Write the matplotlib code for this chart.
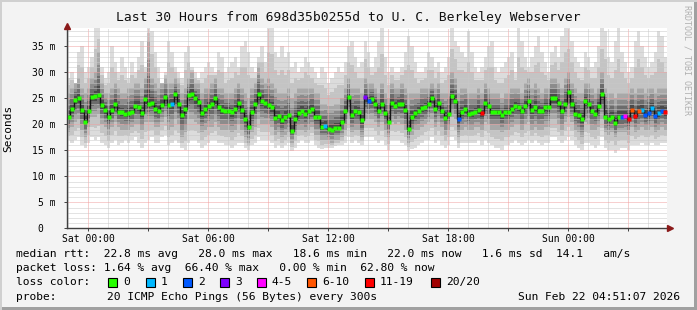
import matplotlib
matplotlib.use("Agg")
import matplotlib.pyplot as plt
from matplotlib.patches import Rectangle
import numpy as np

# median rtt per 10-minute step (ms), Fri 22:56 .. Sun 04:56
median_ms = [
    21.5, 23.0, 24.7, 25.0, 22.8, 20.5, 22.6, 25.3, 25.4, 25.6, 23.8, 22.8, 21.5, 22.8, 24.0,
    22.4, 22.3, 22.0, 22.1, 22.4, 23.5, 23.4, 22.2, 24.8, 24.0, 24.2, 23.0, 22.5, 23.8, 25.3,
    23.8, 24.0, 25.8, 24.0, 21.8, 22.9, 25.6, 25.8, 25.0, 24.3, 22.2, 23.0, 23.5, 23.9, 25.0,
    23.4, 22.8, 22.6, 22.5, 22.3, 22.9, 24.2, 22.7, 21.0, 19.5, 22.4, 24.0, 25.8, 24.6, 24.1,
    23.8, 23.3, 21.3, 21.6, 20.8, 21.5, 21.8, 18.8, 21.0, 22.1, 22.5, 22.0, 22.5, 23.0, 21.5,
    21.5, 19.5, 19.6, 19.1, 19.0, 19.3, 19.3, 20.5, 22.5, 25.2, 21.8, 22.5, 22.4, 20.8, 25.2,
    24.5, 24.8, 24.0, 22.5, 24.0, 22.2, 20.5, 24.2, 23.6, 24.0, 24.0, 22.8, 19.2, 21.5, 22.1,
    22.5, 23.1, 23.4, 23.9, 25.0, 22.9, 24.2, 22.6, 21.3, 22.0, 25.5, 24.6, 21.0, 22.3, 23.0,
    22.0, 22.2, 22.4, 22.8, 22.2, 24.2, 23.5, 22.4, 22.4, 22.3, 21.8, 22.4, 22.3, 23.0, 23.5,
    23.4, 22.6, 23.5, 24.5, 22.8, 23.4, 22.5, 22.6, 23.4, 23.3, 25.0, 25.0, 24.2, 22.5, 24.0,
    26.2, 24.0, 22.0, 21.8, 21.0, 24.5, 24.0, 22.5, 22.0, 23.5, 25.8, 21.5, 21.0, 21.4, 20.2,
    21.5, 21.5, 21.6, 21.0, 22.8, 21.6, 22.5, 22.8, 21.8, 22.1, 23.2, 21.6, 22.2, 22.6, 22.4,
]

# lost pings out of 20 per step
loss = [0] * 180
for i, v in {31: 1, 77: 1, 89: 3, 90: 2, 117: 2, 124: 12, 166: 2, 167: 4, 168: 12,
             169: 8, 170: 12, 171: 7, 172: 1, 173: 2, 174: 2, 175: 1, 176: 2, 177: 1,
             178: 2, 179: 12}.items():
    loss[i] = v

# smoke: slowest / fastest ping and the edges of the darker inner band
smoke_max = [
    29, 30, 28, 34, 35, 30, 31, 33, 39, 39, 31, 29, 30, 35, 32, 30, 33, 31, 29, 32, 30, 33, 36, 31, 39, 38, 34, 31, 28, 30,
    36, 34, 31, 30, 29, 34, 35, 31, 30, 29, 30, 31, 32, 31, 30, 34, 33, 30, 31, 32, 33, 31, 35, 36, 34, 31, 30, 33, 35, 32,
    39, 39, 34, 33, 35, 33, 34, 31, 32, 30, 31, 33, 32, 31, 30, 29, 31, 30, 28, 29, 30, 31, 30, 32, 35, 36, 33, 31, 32, 36,
    34, 31, 33, 36, 39, 33, 30, 31, 30, 30, 31, 34, 37, 35, 32, 30, 30, 31, 34, 33, 31, 32, 30, 31, 33, 39, 36, 35, 34, 33,
    38, 34, 31, 30, 31, 33, 35, 36, 31, 30, 31, 32, 33, 34, 30, 39, 36, 33, 31, 33, 35, 37, 34, 32, 30, 34, 35, 33, 37, 39,
    39, 36, 33, 32, 31, 34, 33, 31, 32, 35, 39, 38, 33, 32, 36, 39, 34, 32, 30, 31, 36, 38, 35, 33, 31, 32, 34, 38, 37, 33,
]
smoke_up = [
    26, 27, 28, 29, 27, 26, 27, 29, 30, 34, 28, 26, 26, 27, 28, 27, 26, 26, 27, 27, 28, 28, 27, 29, 36, 29, 28, 27, 28, 29,
    28, 28, 29, 28, 26, 27, 29, 30, 28, 28, 26, 27, 27, 28, 29, 27, 27, 26, 26, 26, 27, 28, 27, 26, 25, 27, 28, 31, 29, 28,
    29, 28, 27, 26, 26, 26, 27, 25, 26, 27, 27, 27, 27, 27, 26, 26, 24, 24, 23.5, 23.5, 24, 24, 25, 27, 29, 27, 27, 27, 26, 29,
    28, 28, 27, 26, 28, 26, 25, 28, 27, 27, 28, 27, 26, 26, 26, 26, 27, 27, 27, 28, 27, 28, 26, 26, 26, 30, 29, 26, 27, 27,
    26, 26, 26, 27, 26, 28, 27, 26, 26, 26, 25, 26, 26, 27, 27, 27, 26, 28, 29, 27, 28, 27, 26, 27, 27, 29, 29, 28, 27, 29,
    30, 28, 27, 26, 26, 28, 28, 27, 26, 27, 30, 27, 26, 26, 25, 26, 26, 26, 26, 27, 26, 27, 27, 26, 27, 27, 26, 27, 27, 27,
]
smoke_dn = [
    18.5, 19.5, 20.5, 21, 19, 17.5, 19.5, 21.5, 21.5, 22, 20, 19.5, 18, 19.5, 20.5, 19.5, 19, 19, 19, 19.5, 20, 20, 19, 20.5, 20.5, 20.5, 19.5, 19.5, 20.5, 21.5,
    19, 19.5, 21, 20, 17.5, 18.5, 21, 21, 20.5, 20, 18.5, 19, 19.5, 19.5, 20.5, 19.5, 19, 19, 19, 18.5, 19, 20, 19, 17.5, 16.5, 18.5, 19.5, 21, 20, 20,
    20, 19.5, 18, 18.5, 17.5, 18, 18.5, 16.5, 18, 19, 19, 18.5, 19, 19.5, 18, 18, 17, 17, 17, 16.5, 17, 17, 17.5, 19, 21, 18.5, 19, 19, 17.5, 21,
    21, 21, 20.5, 19.5, 20.5, 19, 17.5, 20.5, 20, 20.5, 20, 19, 16.5, 18, 19, 19, 19.5, 20, 20.5, 21, 19.5, 20.5, 19.5, 18, 19, 21.5, 21, 17.5, 19, 19.5,
    19, 19, 19.5, 19.5, 19, 20.5, 20, 19, 19, 19, 18.5, 19, 19, 19.5, 20, 20, 19, 20, 20.5, 19, 19.5, 19, 19, 19.5, 19.5, 21, 21, 20, 19, 20.5,
    21.5, 20.5, 19, 18.5, 17.5, 20.5, 20, 19, 19, 19.5, 21, 18.5, 18, 18.5, 17.5, 18.5, 18.5, 18.5, 18, 19.5, 18.5, 19, 19.5, 19, 19, 19.5, 18.5, 19, 19.5, 19,
]
smoke_min = [
    17, 16.5, 17, 17.5, 16, 15.5, 16.5, 17.5, 17, 17.5, 16.5, 16, 15.5, 16.5, 17, 16, 16.5, 17, 16.5, 17, 17.5, 16.5, 15.5, 16.5, 17, 17.5, 16.5, 16.5, 17.5, 18,
    16, 16.5, 17, 16.5, 15.5, 15, 16.5, 17, 17, 16.5, 15.5, 16, 16.5, 17, 17, 16.5, 16.5, 16, 16, 15.5, 16, 16.5, 16.5, 15.5, 15, 16, 16.5, 17.5, 17, 17,
    17, 16.5, 15.5, 16, 15.5, 16, 16.5, 14.8, 15.5, 16.5, 17, 16.5, 16.5, 17, 16, 15.5, 15.2, 15.5, 15.5, 15.5, 15.8, 16, 16, 16.5, 17.5, 16.5, 17, 16.5, 16, 17.5,
    17.5, 17.5, 17, 16.5, 17, 16, 15, 17, 17, 17, 16.5, 16, 14.8, 15.2, 15.5, 16, 16.5, 17, 17, 17.5, 16.5, 17, 16, 15.5, 16, 17.5, 17, 15.5, 16.5, 16.5,
    16.5, 16.5, 16.5, 17, 16, 17, 16.5, 16, 15.5, 15.5, 15, 16, 16, 16.5, 17, 16.5, 16, 16.5, 17, 16.5, 17, 16.5, 16, 16.5, 16.5, 17.5, 17.5, 17, 16.5, 17,
    17.5, 17, 16, 15.5, 15, 16.5, 16.5, 16, 15.5, 16, 17.5, 15.5, 15, 15, 14.5, 15, 15.5, 15.5, 15, 16, 16, 16, 16.5, 16, 16, 16.5, 16, 16, 16.5, 16.5,
]

x_ticks = [0, 6, 12, 18, 24]
x_labels = ["Sat 00:00", "Sat 06:00", "Sat 12:00", "Sat 18:00", "Sun 00:00"]
y_ticks = [0, 5, 10, 15, 20, 25, 30, 35]
y_labels = ["0  ", "5 m", "10 m", "15 m", "20 m", "25 m", "30 m", "35 m"]

loss_bins = [(0, 0, "0", "#26ff00"), (1, 1, "1", "#00b8ff"), (2, 2, "2", "#0059ff"),
             (3, 3, "3", "#7e00ff"), (4, 5, "4-5", "#ff00ff"), (6, 10, "6-10", "#ff5500"),
             (11, 19, "11-19", "#ff0000"), (20, 20, "20/20", "#a10000")]

MONO = "DejaVu Sans Mono"
W, H = 697, 310
fig = plt.figure(figsize=(W / 100, H / 100), dpi=100)
fig.patch.set_facecolor("#f3f3f3")

ax = fig.add_axes([67 / W, (H - 228.3) / H, 600 / W, 200 / H])
ax.set_facecolor("white")
t_start = -1.065
edges = t_start + np.arange(len(median_ms) + 1) / 6.0
centres = (edges[:-1] + edges[1:]) / 2
ax.set_xlim(edges[0], edges[-1])
ax.set_ylim(0, 38.5)

med = np.array(median_ms)
hi_o, lo_o = np.array(smoke_max), np.array(smoke_min)
hi_i, lo_i = np.array(smoke_up), np.array(smoke_dn)

# smoke, shaded from the outer pings towards the median
outer_shades = [(1.0, "#dcdcdc"), (0.5, "#c4c4c4")]
for f, col in outer_shades:
    top = hi_i + (hi_o - hi_i) * f
    bot = lo_i - (lo_i - lo_o) * f
    ax.stairs(top, edges, baseline=bot, fill=True, color=col, lw=0, zorder=1)
inner_shades = [(1.0, "#a8a8a8"), (0.7, "#8c8c8c"), (0.45, "#6c6c6c"), (0.22, "#4a4a4a")]
for f, col in inner_shades:
    top = med + (hi_i - med) * f
    bot = med - (med - lo_i) * f
    ax.stairs(top, edges, baseline=bot, fill=True, color=col, lw=0, zorder=2)

# grid on top of smoke
for h in np.arange(-1, 29):
    c = "#f0a0a0" if h % 3 == 0 else "#c8c8c8"
    ax.axvline(h, color=c, lw=0.72, ls=(0, (1, 1)), zorder=3)
for v in range(1, 39):
    c = "#f0a0a0" if v % 5 == 0 else "#c8c8c8"
    ax.axhline(v, color=c, lw=0.72, ls=(0, (1, 1)), zorder=3)

# median line + loss coloured dots
ax.stairs(median_ms, edges, baseline=None, color="#151515", lw=1.0, zorder=5)
ls = np.array(loss)
for lo, hi, lab, col in loss_bins:
    m = (ls >= lo) & (ls <= hi)
    if m.any():
        ax.plot(centres[m], med[m], "s", ms=2.5, color=col, mec="none", zorder=6)

for s in ["top", "right"]:
    ax.spines[s].set_visible(False)
for s in ["left", "bottom"]:
    ax.spines[s].set_color("#404040")
    ax.spines[s].set_linewidth(1.0)
    ax.spines[s].set_zorder(7)

ax.set_xticks(x_ticks)
ax.set_xticklabels(x_labels, fontfamily=MONO, fontsize=7)
ax.set_xticks(np.arange(0, 29, 3), minor=True)
ax.set_yticks(y_ticks)
ax.set_yticklabels(y_labels, fontfamily=MONO, fontsize=7)
ax.tick_params(axis="both", which="both", length=2, width=0.7, color="#404040", pad=2)
ax.tick_params(axis="y", pad=6)

# axis arrows
ax.plot([edges[0]], [38.9], marker="^", ms=4.5, color="#8b1a1a", clip_on=False, zorder=8)
ax.plot([edges[-1] + 0.15], [0], marker=">", ms=4.5, color="#8b1a1a", clip_on=False, zorder=8)

ax.set_ylabel("Seconds", fontfamily=MONO, fontsize=8, labelpad=14)

def ftext(x, y, s, **kw):
    fig.text(x / W, 1 - y / H, s, fontfamily=MONO, va="center", **kw)

ftext(W / 2, 17, "Last 30 Hours from 698d35b0255d to U. C. Berkeley Webserver",
      fontsize=9.4, ha="center", color="#101010")
fig.text(687 / W, 1 - 5 / H, "RRDTOOL / TOBI OETIKER", fontfamily=MONO, fontsize=6,
         rotation=270, va="top", ha="center", color="#b0b0b0")

lt = 8.1
ftext(16, 254, "median rtt:  22.8 ms avg   28.0 ms max   18.6 ms min   22.0 ms now   1.6 ms sd  14.1   am/s", fontsize=lt)
ftext(16, 268, "packet loss: 1.64 % avg  66.40 % max   0.00 % min  62.80 % now", fontsize=lt)
ftext(16, 282, "loss color:", fontsize=lt)
box_x = [108, 146, 183, 220, 257, 307, 365, 431]
for bx, (lo, hi, lab, col) in zip(box_x, loss_bins):
    fig.patches.append(Rectangle((bx / W, 1 - 286.5 / H), 9 / W, 9 / H, transform=fig.transFigure,
                                 facecolor=col, edgecolor="black", lw=0.8))
    ftext(bx + 15, 282, lab, fontsize=lt)
ftext(16, 297, "probe:", fontsize=lt)
ftext(107, 297, "20 ICMP Echo Pings (56 Bytes) every 300s", fontsize=lt)
ftext(680, 297, "Sun Feb 22 04:51:07 2026", fontsize=lt, ha="right")

# frame
fig.patches.append(Rectangle((0, 0), 1, 1 / H * 3, transform=fig.transFigure, facecolor="#a0a0a0", lw=0))
fig.patches.append(Rectangle((1 - 3 / W, 0), 3 / W, 1, transform=fig.transFigure, facecolor="#a0a0a0", lw=0))
fig.patches.append(Rectangle((0, 1 - 2 / H), 1, 2 / H, transform=fig.transFigure, facecolor="#d0d0d0", lw=0))
fig.patches.append(Rectangle((0, 0), 2 / W, 1, transform=fig.transFigure, facecolor="#d0d0d0", lw=0))

fig.savefig("out.png", dpi=100, facecolor=fig.get_facecolor())
